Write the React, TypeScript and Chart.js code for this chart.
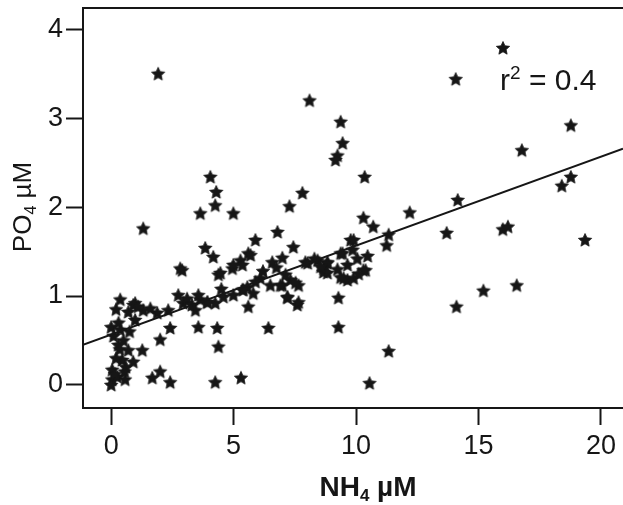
import React, { useEffect, useRef } from "react";
import { Chart, registerables } from "chart.js";

Chart.register(...registerables);

// NH4 (µM) and PO4 (µM) sample pairs
const NH4: number[] = [
  0.04, 0.0, 0.25, 0.57, 0.04, 0.45, 0.9, 0.29, 0.7, 1.27, 0.0, 0.37, 0.98, 0.37, 0.98, 1.31, 0.7, 0.9,
  1.88, 2.33, 2.74, 2.94, 3.44, 3.56, 2.41, 2.0, 2.0, 1.68, 2.41, 2.9, 3.64, 4.25, 4.33, 4.38, 4.25, 5.3,
  3.56, 3.93, 4.58, 4.99, 0.2, 0.5, 0.15, 0.6, 0.3, 0.1,
  1.92, 1.31, 4.05, 4.29, 4.25, 3.64, 4.99, 3.84, 4.17, 2.82, 4.38, 5.28, 5.6, 4.95, 5.89,
  7.81, 7.28, 6.79, 7.44, 5.69, 6.58, 6.99, 5.36, 7.93, 8.43, 9.37, 9.78, 8.67, 9.24, 9.65, 6.09, 6.5,
  7.32, 7.65, 5.56, 5.8, 5.36, 7.2, 7.6, 5.6, 7.12, 7.53, 6.99, 4.5, 6.42,
  8.1, 9.37, 9.45, 9.24, 9.16, 10.35, 10.3, 10.7, 11.33, 11.25, 9.9, 9.86, 10.47, 10.39, 9.9, 9.45,
  8.83, 8.67, 9.49, 9.28, 9.28, 11.33, 10.55, 12.19,
  16.0, 14.07, 18.77, 16.77, 14.15, 13.7, 15.99, 16.2, 18.4, 18.77, 19.35, 15.2, 16.56, 14.1,
  8.02, 8.83, 9.65, 4.46, 4.99, 10.3, 8.83, 9.37, 5.89, 6.91, 5.4, 7.2, 7.65, 3.93,
  0.35, 0.55, 0.2, 0.75, 1.1, 1.6, 3.1, 3.3, 6.2, 6.75, 8.3, 8.55, 10.05, 10.1,
];
const PO4: number[] = [
  0.06, 0.0, 0.09, 0.06, 0.17, 0.28, 0.26, 0.45, 0.39, 0.39, 0.65, 0.62, 0.73, 0.96, 0.92, 0.84, 0.82, 0.9,
  0.81, 0.84, 1.01, 0.92, 0.84, 0.65, 0.64, 0.51, 0.15, 0.08, 0.03, 1.29, 0.96, 0.92, 0.64, 0.43, 0.03, 0.08,
  1.01, 0.93, 0.99, 1.01, 0.3, 0.5, 0.12, 0.2, 0.7, 0.55,
  3.5, 1.76, 2.34, 2.17, 2.02, 1.93, 1.93, 1.54, 1.44, 1.31, 1.24, 1.4, 1.48, 1.31, 1.63,
  2.16, 2.01, 1.72, 1.55, 1.46, 1.38, 1.43, 1.35, 1.38, 1.4, 1.48, 1.63, 1.31, 1.3, 1.18, 1.2, 1.12,
  1.18, 1.12, 1.1, 1.03, 1.07, 0.98, 0.9, 0.88, 1.24, 1.15, 1.12, 1.08, 0.64,
  3.2, 2.96, 2.72, 2.58, 2.53, 2.34, 1.88, 1.78, 1.69, 1.57, 1.63, 1.52, 1.45, 1.29, 1.2, 1.48,
  1.38, 1.27, 1.2, 0.98, 0.65, 0.38, 0.02, 1.94,
  3.79, 3.44, 2.92, 2.64, 2.08, 1.71, 1.75, 1.78, 2.24, 2.34, 1.63, 1.06, 1.12, 0.88,
  1.37, 1.37, 1.35, 1.26, 1.35, 1.29, 1.26, 1.21, 1.16, 1.12, 1.07, 0.99, 0.93, 0.93,
  0.4, 0.15, 0.85, 0.6, 0.88, 0.86, 0.97, 0.9, 1.28, 1.32, 1.42, 1.33, 1.42, 1.25,
];

// Least-squares fit shown on the plot
const FIT_INTERCEPT = 0.566;
const FIT_SLOPE = 0.1;
const R2_LABEL = "0.4";

const X_MIN = -1.15;
const X_MAX = 20.9;
const Y_MIN = -0.26;
const Y_MAX = 4.24;
const X_TICKS = [0, 5, 10, 15, 20];
const Y_TICKS = [0, 1, 2, 3, 4];

const INK = "#161616";
const FONT = "'Liberation Sans', Arial, Helvetica, sans-serif";

function makeStar(): HTMLCanvasElement {
  const size = 16;
  const c = document.createElement("canvas");
  c.width = size;
  c.height = size;
  const g = c.getContext("2d")!;
  const cx = size / 2;
  const cy = size / 2 + 0.5;
  const outer = 7;
  const inner = 3.3;
  g.beginPath();
  for (let i = 0; i < 10; i++) {
    const r = i % 2 === 0 ? outer : inner;
    const a = -Math.PI / 2 + (i * Math.PI) / 5;
    const px = cx + r * Math.cos(a);
    const py = cy + r * Math.sin(a);
    if (i === 0) g.moveTo(px, py);
    else g.lineTo(px, py);
  }
  g.closePath();
  g.fillStyle = INK;
  g.fill();
  g.lineJoin = "round";
  g.lineWidth = 0.8;
  g.strokeStyle = INK;
  g.stroke();
  return c;
}

// Draws text with a smaller sub- or superscript part
function drawScripted(
  g: CanvasRenderingContext2D,
  parts: { t: string; script?: "sub" | "sup" }[],
  x: number,
  y: number,
  size: number,
  weight: string,
  align: "left" | "center"
) {
  const small = Math.round(size * 0.62);
  const widths = parts.map((p) => {
    g.font = `${weight} ${p.script ? small : size}px ${FONT}`;
    return g.measureText(p.t).width;
  });
  const total = widths.reduce((a, b) => a + b, 0);
  let cx = align === "center" ? x - total / 2 : x;
  g.textBaseline = "alphabetic";
  g.textAlign = "left";
  parts.forEach((p, i) => {
    g.font = `${weight} ${p.script ? small : size}px ${FONT}`;
    let dy = 0;
    if (p.script === "sub") dy = size * 0.18;
    if (p.script === "sup") dy = -size * 0.38;
    g.fillText(p.t, cx, y + dy);
    cx += widths[i];
  });
}

const decorations = {
  id: "decorations",
  afterDraw(chart: any) {
    const g: CanvasRenderingContext2D = chart.ctx;
    const { left, right, top } = chart.chartArea;
    g.save();
    g.strokeStyle = INK;
    g.lineWidth = 2;
    g.beginPath();
    g.moveTo(left - 1, top);
    g.lineTo(right, top);
    g.stroke();

    g.fillStyle = INK;
    // x-axis title
    drawScripted(g, [{ t: "NH" }, { t: "4", script: "sub" }, { t: " µM" }], 368, 496, 28, "bold", "center");
    // y-axis title
    g.save();
    g.translate(31, 207);
    g.rotate(-Math.PI / 2);
    drawScripted(g, [{ t: "PO" }, { t: "4", script: "sub" }, { t: " µM" }], 0, 0, 26, "normal", "center");
    g.restore();
    // goodness-of-fit label
    drawScripted(g, [{ t: "r" }, { t: "2", script: "sup" }, { t: " = " + R2_LABEL }], 500, 90, 30, "normal", "left");
    g.restore();
  },
};

export default function App() {
  const ref = useRef<HTMLCanvasElement>(null);

  useEffect(() => {
    const canvas = ref.current;
    if (!canvas) return;
    const star = makeStar();
    const points = NH4.map((x, i) => ({ x, y: PO4[i] }));
    const fit = [X_MIN, X_MAX].map((x) => ({ x, y: FIT_INTERCEPT + FIT_SLOPE * x }));

    const tickFont = { family: FONT, size: 27 };

    const chart = new Chart(canvas, {
      type: "scatter",
      data: {
        datasets: [
          {
            type: "line",
            data: fit,
            borderColor: INK,
            borderWidth: 2,
            pointRadius: 0,
            fill: false,
          } as any,
          {
            data: points,
            pointStyle: star as any,
            pointRadius: 8,
            backgroundColor: INK,
            borderColor: INK,
          },
        ],
      },
      options: {
        animation: false,
        responsive: false,
        maintainAspectRatio: false,
        layout: { autoPadding: false, padding: { top: 8, right: 0, left: 0, bottom: 0 } },
        plugins: { legend: { display: false }, tooltip: { enabled: false } },
        scales: {
          x: {
            type: "linear",
            min: X_MIN,
            max: X_MAX,
            afterBuildTicks: (s: any) => {
              s.ticks = X_TICKS.map((value) => ({ value }));
            },
            afterFit: (s: any) => {
              s.height = 97;
              s.paddingLeft = 0;
              s.paddingRight = 0;
            },
            grid: {
              drawOnChartArea: false,
              drawTicks: true,
              tickLength: 17,
              tickWidth: 2,
              tickColor: INK,
            },
            border: { display: true, color: INK, width: 2 },
            ticks: { font: tickFont, color: INK, padding: 5, maxRotation: 0, autoSkip: false },
          },
          y: {
            type: "linear",
            min: Y_MIN,
            max: Y_MAX,
            afterBuildTicks: (s: any) => {
              s.ticks = Y_TICKS.map((value) => ({ value }));
            },
            afterFit: (s: any) => {
              s.width = 83;
              s.paddingTop = 0;
              s.paddingBottom = 0;
            },
            grid: {
              drawOnChartArea: false,
              drawTicks: true,
              tickLength: 17,
              tickWidth: 2,
              tickColor: INK,
            },
            border: { display: true, color: INK, width: 2 },
            ticks: { font: tickFont, color: INK, padding: 3, autoSkip: false },
          },
        },
      },
      plugins: [decorations],
    });

    return () => chart.destroy();
  }, []);

  return (
    <div style={{ position: "absolute", left: 0, top: 0, width: 623, height: 505, background: "#fff" }}>
      <canvas ref={ref} width={623} height={505} style={{ display: "block", width: 623, height: 505 }} />
    </div>
  );
}
